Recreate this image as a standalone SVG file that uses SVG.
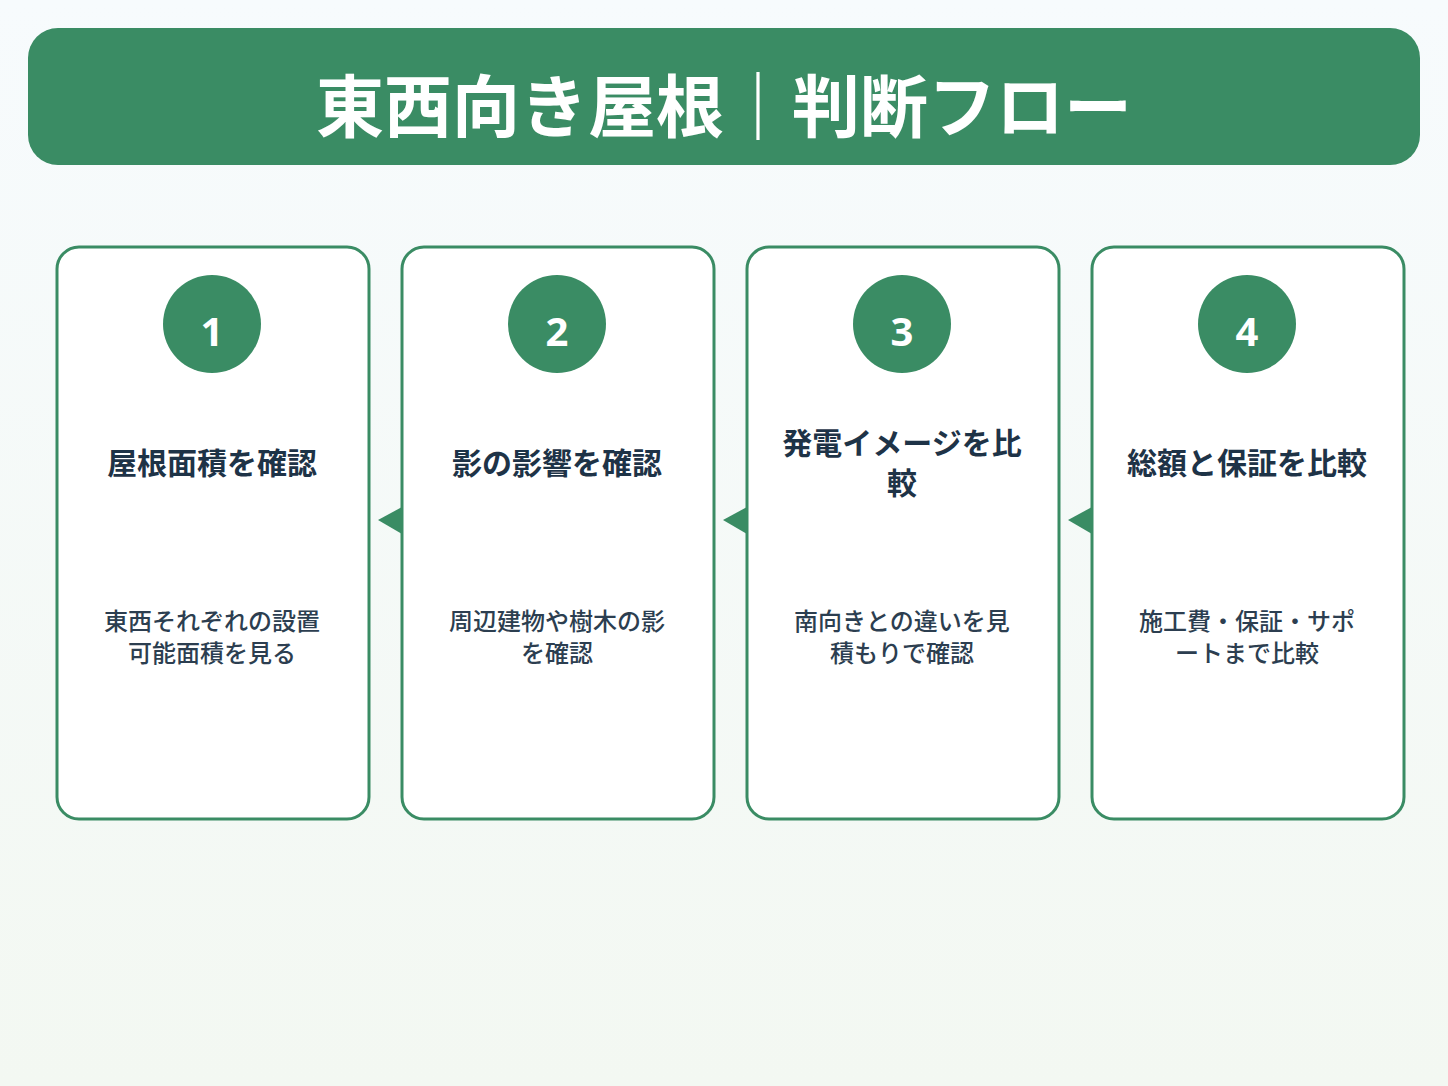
<svg xmlns="http://www.w3.org/2000/svg" width="1448" height="1086" viewBox="0 0 1448 1086">
<defs>
<linearGradient id="bg" x1="0" y1="0" x2="0" y2="1"><stop offset="0" stop-color="#f7fbfd"/><stop offset="1" stop-color="#f3f8f2"/></linearGradient>
<style>
.card{fill:#fff;stroke:#3a8c64;stroke-width:3}
.circ{fill:#3a8c64}
.num{font-family:"Noto Sans","Noto Sans CJK JP",sans-serif;font-weight:700;font-size:40px;fill:#fff;text-anchor:middle}
.ttl{font-family:"Noto Sans CJK JP",sans-serif;font-weight:700;font-size:30px;fill:#1e3347;text-anchor:middle}
.dsc{font-family:"Noto Sans CJK JP",sans-serif;font-weight:500;font-size:24px;fill:#2c3e50;text-anchor:middle}
.arr{fill:#3a8c64}
</style>
</defs>
<rect width="1448" height="1086" fill="url(#bg)"/>
<g id="header">
<rect x="28" y="28" width="1392" height="137" rx="30" fill="#3a8c64"/>
<text x="724" y="132" font-family="Noto Sans CJK JP, sans-serif" font-weight="700" font-size="68" fill="#fff" text-anchor="middle">東西向き屋根｜判断フロー</text>
</g>
<g id="connectors">
<polygon class="arr" points="378,520 402,507 402,534"/>
<polygon class="arr" points="723,520 747,507 747,534"/>
<polygon class="arr" points="1068,520 1092,507 1092,534"/>
</g>
<g id="step1">
<rect class="card" x="57" y="247" width="312" height="572" rx="22"/>
<circle class="circ" cx="212" cy="324" r="49"/>
<text class="num" x="212" y="346">1</text>
<text class="ttl" x="212" y="474">屋根面積を確認</text>
<text class="dsc" x="212" y="630">東西それぞれの設置</text>
<text class="dsc" x="212" y="662">可能面積を見る</text>
</g>
<g id="step2">
<rect class="card" x="402" y="247" width="312" height="572" rx="22"/>
<circle class="circ" cx="557" cy="324" r="49"/>
<text class="num" x="557" y="346">2</text>
<text class="ttl" x="557" y="474">影の影響を確認</text>
<text class="dsc" x="557" y="630">周辺建物や樹木の影</text>
<text class="dsc" x="557" y="662">を確認</text>
</g>
<g id="step3">
<rect class="card" x="747" y="247" width="312" height="572" rx="22"/>
<circle class="circ" cx="902" cy="324" r="49"/>
<text class="num" x="902" y="346">3</text>
<text class="ttl" x="902" y="454">発電イメージを比</text>
<text class="ttl" x="902" y="494">較</text>
<text class="dsc" x="902" y="630">南向きとの違いを見</text>
<text class="dsc" x="902" y="662">積もりで確認</text>
</g>
<g id="step4">
<rect class="card" x="1092" y="247" width="312" height="572" rx="22"/>
<circle class="circ" cx="1247" cy="324" r="49"/>
<text class="num" x="1247" y="346">4</text>
<text class="ttl" x="1247" y="474">総額と保証を比較</text>
<text class="dsc" x="1247" y="630">施工費・保証・サポ</text>
<text class="dsc" x="1247" y="662">ートまで比較</text>
</g>
</svg>
